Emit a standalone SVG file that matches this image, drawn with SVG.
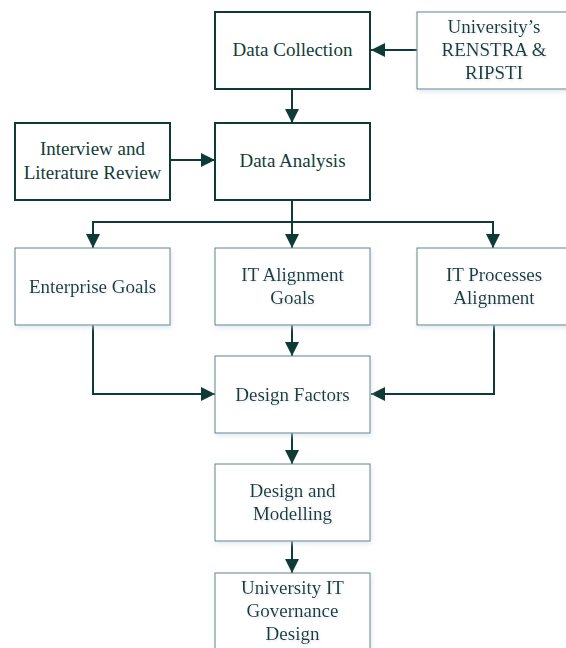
<svg xmlns="http://www.w3.org/2000/svg" width="566" height="648" viewBox="0 0 566 648">
  <style>
    .bold { fill: #ffffff; stroke: #0f3b37; stroke-width: 2; }
    .soft { fill: #ffffff; stroke: #5f8283; stroke-width: 1; filter: url(#glow); }
    .lbl { font-family: "Liberation Serif", "Times New Roman", serif; font-size: 19px; fill: #133c38; text-anchor: middle; }
    .slbl { filter: url(#tglow); }
    .wire { fill: none; stroke: #0f3b37; stroke-width: 2; }
  </style>
  <defs>
    <marker id="head" viewBox="0 0 14 14" refX="14" refY="7" markerWidth="14" markerHeight="14" markerUnits="userSpaceOnUse" orient="auto">
      <path d="M0,0 L14,7 L0,14 Z" fill="#0f3b37"/>
    </marker>
    <filter id="glow" x="-20%" y="-20%" width="140%" height="140%">
      <feDropShadow dx="1" dy="2" stdDeviation="2.5" flood-color="#cfdbec" flood-opacity="0.7"/>
    </filter>
    <filter id="tglow" x="-10%" y="-30%" width="120%" height="160%">
      <feDropShadow dx="1" dy="1.5" stdDeviation="1.2" flood-color="#c3cfe2" flood-opacity="0.55"/>
    </filter>
  </defs>

  <rect width="566" height="648" fill="#ffffff"/>

  <!-- connectors -->
  <g id="connectors">
    <path class="wire" d="M417,50 L371,50" marker-end="url(#head)"/>
    <path class="wire" d="M292,89 L292,123" marker-end="url(#head)"/>
    <path class="wire" d="M170,160 L215,160" marker-end="url(#head)"/>
    <path class="wire" d="M292,200 L292,222"/>
    <path class="wire" d="M93,248 L93,222 L493,222 L493,248"/>
    <path class="wire" d="M93,233 L93,248" marker-end="url(#head)"/>
    <path class="wire" d="M292,222 L292,248" marker-end="url(#head)"/>
    <path class="wire" d="M493,233 L493,248" marker-end="url(#head)"/>
    <path class="wire" d="M292,325 L292,356" marker-end="url(#head)"/>
    <path class="wire" d="M93,325 L93,394 L215,394" marker-end="url(#head)"/>
    <path class="wire" d="M494,325 L494,394 L371,394" marker-end="url(#head)"/>
    <path class="wire" d="M292,433 L292,464" marker-end="url(#head)"/>
    <path class="wire" d="M292,541 L292,573" marker-end="url(#head)"/>
  </g>

  <!-- nodes -->
  <g id="data-collection">
    <rect class="bold" x="215" y="12" width="155" height="77"/>
    <text class="lbl" x="292.5" y="56">Data Collection</text>
  </g>

  <g id="renstra">
    <rect class="soft" x="417" y="12" width="160" height="77"/>
    <text class="lbl slbl" x="494" y="33">University’s</text>
    <text class="lbl slbl" x="494" y="56">RENSTRA &amp;</text>
    <text class="lbl slbl" x="494" y="79">RIPSTI</text>
  </g>

  <g id="interview">
    <rect class="bold" x="15" y="123" width="155" height="77"/>
    <text class="lbl" x="92.5" y="155">Interview and</text>
    <text class="lbl" x="92.5" y="179">Literature Review</text>
  </g>

  <g id="data-analysis">
    <rect class="bold" x="215" y="123" width="155" height="77"/>
    <text class="lbl" x="292.5" y="167">Data Analysis</text>
  </g>

  <g id="enterprise-goals">
    <rect class="soft" x="15" y="248" width="155" height="77"/>
    <text class="lbl slbl" x="92.5" y="293">Enterprise Goals</text>
  </g>

  <g id="it-alignment-goals">
    <rect class="soft" x="215" y="248" width="155" height="77"/>
    <text class="lbl slbl" x="292.5" y="281">IT Alignment</text>
    <text class="lbl slbl" x="292.5" y="304">Goals</text>
  </g>

  <g id="it-processes-alignment">
    <rect class="soft" x="417" y="248" width="160" height="77"/>
    <text class="lbl slbl" x="494" y="281">IT Processes</text>
    <text class="lbl slbl" x="494" y="304">Alignment</text>
  </g>

  <g id="design-factors">
    <rect class="soft" x="215" y="356" width="155" height="77"/>
    <text class="lbl slbl" x="292.5" y="401">Design Factors</text>
  </g>

  <g id="design-modelling">
    <rect class="soft" x="215" y="464" width="155" height="77"/>
    <text class="lbl slbl" x="292.5" y="497">Design and</text>
    <text class="lbl slbl" x="292.5" y="520">Modelling</text>
  </g>

  <g id="it-governance-design">
    <rect class="soft" x="215" y="573" width="155" height="90"/>
    <text class="lbl slbl" x="292.5" y="594">University IT</text>
    <text class="lbl slbl" x="292.5" y="617">Governance</text>
    <text class="lbl slbl" x="292.5" y="640">Design</text>
  </g>
</svg>
